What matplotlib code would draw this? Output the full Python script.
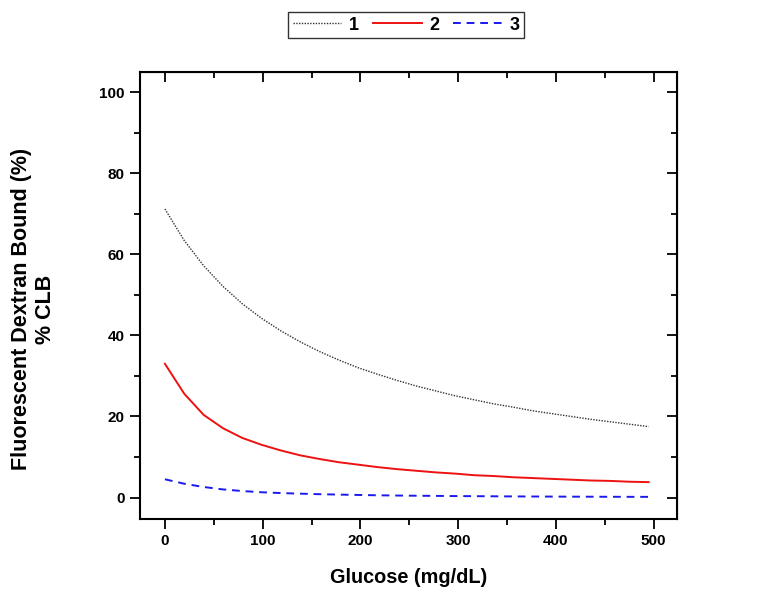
import matplotlib
matplotlib.use("Agg")
import matplotlib.pyplot as plt
from matplotlib.ticker import MultipleLocator

plt.rcParams['font.family'] = ['Liberation Sans', 'DejaVu Sans']
plt.rcParams['font.weight'] = 'bold'

glucose = [0, 19.8, 39.6, 59.4, 79.2, 99, 118.8, 138.6, 158.4, 178.2, 198, 217.8, 237.6,
           257.4, 277.2, 297, 316.8, 336.6, 356.4, 376.2, 396, 415.8, 435.6, 455.4, 475.2, 495]
series1 = [71.2, 63.4, 57.2, 52.1, 47.8, 44.2, 41.1, 38.4, 36.0, 33.9, 32.0, 30.4, 28.9,
           27.5, 26.3, 25.1, 24.1, 23.1, 22.3, 21.4, 20.7, 20.0, 19.3, 18.7, 18.1, 17.5]
series2 = [33.0, 25.6, 20.4, 17.1, 14.7, 13.0, 11.6, 10.4, 9.5, 8.7, 8.1, 7.5, 7.0,
           6.6, 6.2, 5.9, 5.5, 5.3, 5.0, 4.8, 4.6, 4.4, 4.2, 4.1, 3.9, 3.8]
series3 = [4.5, 3.4, 2.6, 2.0, 1.6, 1.3, 1.1, 0.95, 0.82, 0.72, 0.63, 0.55, 0.49,
           0.44, 0.40, 0.36, 0.33, 0.30, 0.27, 0.25, 0.23, 0.21, 0.20, 0.18, 0.17, 0.16]
labels = ['1', '2', '3']

fig = plt.figure(figsize=(7.74, 6.0), dpi=100)
ax = fig.add_axes([140/774, 1-519/600, (677-140)/774, (519-72)/600])

l1, = ax.plot(glucose, series1, color='#333333', linestyle=(0, (1, 1)), linewidth=1.0)
l2, = ax.plot(glucose, series2, color='#ee1111', linestyle='-', linewidth=1.4)
l3, = ax.plot(glucose, series3, color='#1a1aee', linestyle=(0, (4, 3)), linewidth=1.4)

ax.set_xlim(-25.5, 524)
ax.set_ylim(-5.3, 105)
ax.xaxis.set_major_locator(MultipleLocator(100))
ax.xaxis.set_minor_locator(MultipleLocator(50))
ax.yaxis.set_major_locator(MultipleLocator(20))
ax.yaxis.set_minor_locator(MultipleLocator(10))
ax.tick_params(which='major', direction='out', length=7, width=1.3, labelsize=11, pad=4)
ax.tick_params(which='minor', direction='out', length=4, width=1.3)
for lab in ax.get_xticklabels() + ax.get_yticklabels():
    lab.set_fontweight('bold')
for sp in ax.spines.values():
    sp.set_linewidth(1.5)

secx = ax.secondary_xaxis('top')
secx.xaxis.set_major_locator(MultipleLocator(100))
secx.xaxis.set_minor_locator(MultipleLocator(50))
secx.tick_params(which='major', direction='in', length=7, width=1.3, labeltop=False)
secx.tick_params(which='minor', direction='in', length=4, width=1.3)
secy = ax.secondary_yaxis('right')
secy.yaxis.set_major_locator(MultipleLocator(20))
secy.yaxis.set_minor_locator(MultipleLocator(10))
secy.tick_params(which='major', direction='in', length=7, width=1.3, labelright=False)
secy.tick_params(which='minor', direction='in', length=4, width=1.3)

ax.set_xlabel('Glucose (mg/dL)', fontsize=14.3, fontweight='bold', labelpad=14)
ax.set_ylabel('Fluorescent Dextran Bound (%)\n% CLB', fontsize=15.5, fontweight='bold',
              linespacing=1.15)
ax.yaxis.set_label_coords(-0.157, 0.47)

leg = fig.legend([l1, l2, l3], labels, loc='center', bbox_to_anchor=(406/774, 1-25/600),
                 ncol=3, frameon=True, fancybox=False, edgecolor='black',
                 prop={'size': 13, 'weight': 'bold'}, handlelength=2.7,
                 columnspacing=0.8, handletextpad=0.4, borderpad=0.25)
leg.get_frame().set_linewidth(1.0)

fig.savefig('out.png', dpi=100)
